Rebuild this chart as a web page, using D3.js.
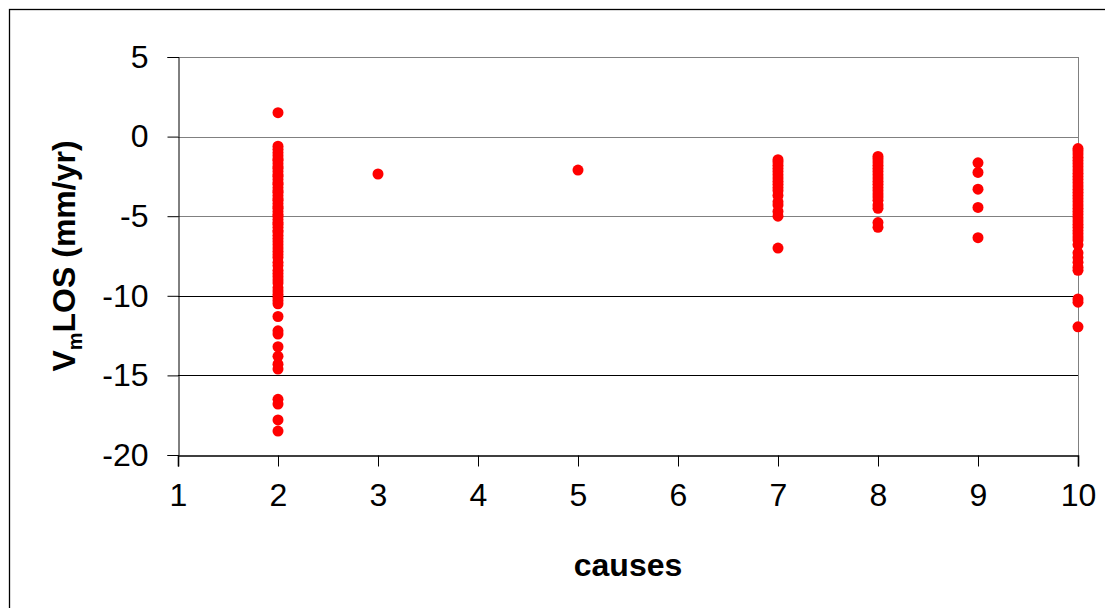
<!DOCTYPE html>
<html>
<head>
<meta charset="utf-8">
<script src="https://cdn.jsdelivr.net/npm/d3@7"></script>
<style>
  html, body { margin: 0; padding: 0; background: #fff; }
  svg { display: block; }
  text { font-family: "Liberation Sans", Arial, sans-serif; }
</style>
</head>
<body>
<svg id="chart" width="1105" height="608"></svg>
<script>
// Velocity (mm/yr) of the measured points, grouped by cause class
const causes = [2, 3, 5, 7, 8, 9, 10];
const cause2 = [1.5, -0.6, -0.8, -1.0, -1.2, -1.4, -1.5, -1.7, -1.9, -2.0, -2.2, -2.4, -2.5, -2.7,
  -2.9, -3.0, -3.2, -3.4, -3.5, -3.7, -3.9, -4.0, -4.2, -4.4, -4.5, -4.7, -4.9, -5.0, -5.2, -5.4,
  -5.5, -5.7, -5.9, -6.0, -6.2, -6.4, -6.6, -6.8, -7.0, -7.2, -7.4, -7.6, -7.9, -8.1, -8.4, -8.6,
  -8.8, -9.0, -9.2, -9.5, -9.7, -9.9, -10.1, -10.3, -10.5, -11.3, -12.2, -12.4, -13.2, -13.8,
  -14.3, -14.6, -16.5, -16.8, -17.8, -18.5];
const cause3 = [-2.35];
const cause5 = [-2.1];
const cause7 = [-1.45, -1.6, -1.8, -2.0, -2.2, -2.4, -2.6, -2.8, -3.0, -3.2, -3.4, -3.7, -4.1,
  -4.3, -4.7, -5.0, -7.0];
const cause8 = [-1.25, -1.4, -1.6, -1.8, -2.0, -2.2, -2.4, -2.6, -2.8, -3.0, -3.2, -3.4, -3.6,
  -3.8, -4.0, -4.3, -4.5, -5.4, -5.7];
const cause9 = [-1.65, -2.25, -3.3, -4.45, -6.35];
const cause10 = [-0.75, -0.9, -1.1, -1.3, -1.5, -1.7, -1.9, -2.1, -2.3, -2.5, -2.7, -2.9, -3.1,
  -3.3, -3.5, -3.7, -3.9, -4.1, -4.3, -4.5, -4.7, -4.9, -5.1, -5.3, -5.5, -5.7, -5.9, -6.1, -6.3,
  -6.5, -6.8, -7.3, -7.6, -7.9, -8.2, -8.4, -10.2, -10.4, -11.95];

const xTicks = [1, 2, 3, 4, 5, 6, 7, 8, 9, 10];
const yTicks = [5, 0, -5, -10, -15, -20];

const groups = [cause2, cause3, cause5, cause7, cause8, cause9, cause10];
const points = [];
causes.forEach((c, i) => groups[i].forEach(v => points.push({ cause: c, v })));

const svg = d3.select("#chart");
const plot = { left: 178, right: 1078, top: 57, bottom: 455 };

const x = d3.scaleLinear().domain([1, 10]).range([plot.left, plot.right]);
const y = d3.scaleLinear().domain([-20, 5]).range([plot.bottom, plot.top]);

// plain hyphen-minus for negative tick labels
const fmt = d => String(d);

// outer chart frame
svg.append("rect")
  .attr("x", 9.5).attr("y", 9.5)
  .attr("width", 1110).attr("height", 620)
  .attr("fill", "none").attr("stroke", "#000").attr("stroke-width", 1.3);

// horizontal gridlines
svg.append("g")
  .selectAll("line")
  .data(yTicks.filter(t => t !== -20))
  .join("line")
  .attr("x1", plot.left).attr("x2", plot.right)
  .attr("y1", d => Math.round(y(d)) + 0.5).attr("y2", d => Math.round(y(d)) + 0.5)
  .attr("stroke", d => d >= -5 ? "#808080" : "#000")
  .attr("stroke-width", 1);

// plot area right edge
svg.append("line")
  .attr("x1", plot.right + 0.5).attr("x2", plot.right + 0.5)
  .attr("y1", plot.top).attr("y2", plot.bottom)
  .attr("stroke", "#808080");

// y axis
const yAxis = svg.append("g")
  .attr("transform", `translate(${plot.left + 0.5},0)`)
  .call(d3.axisLeft(y).tickValues(yTicks).tickSize(11).tickPadding(19).tickFormat(fmt));
yAxis.select(".domain").attr("stroke", "#000");
yAxis.selectAll(".tick line").attr("stroke", "#000");
yAxis.selectAll("text")
  .attr("font-size", 32).attr("fill", "#000")
  .attr("font-family", "'Liberation Sans', Arial, sans-serif");

// x axis
const xAxis = svg.append("g")
  .attr("transform", `translate(0,${plot.bottom + 0.5})`)
  .call(d3.axisBottom(x).tickValues(xTicks).tickSize(11).tickPadding(17).tickFormat(fmt));
xAxis.select(".domain").attr("stroke", "#000").attr("stroke-width", 1.6);
xAxis.selectAll(".tick line").attr("stroke", "#000");
xAxis.selectAll("text")
  .attr("font-size", 32).attr("fill", "#000")
  .attr("font-family", "'Liberation Sans', Arial, sans-serif");

// data points
svg.append("g")
  .selectAll("circle")
  .data(points)
  .join("circle")
  .attr("cx", d => x(d.cause))
  .attr("cy", d => y(d.v))
  .attr("r", 5.5)
  .attr("fill", "#ff0000");

// axis titles
svg.append("text")
  .attr("x", (plot.left + plot.right) / 2)
  .attr("y", 576)
  .attr("text-anchor", "middle")
  .attr("font-size", 32).attr("font-weight", "bold")
  .text("causes");

const yTitle = svg.append("text")
  .attr("transform", `translate(75,${(plot.top + plot.bottom) / 2}) rotate(-90)`)
  .attr("text-anchor", "middle")
  .attr("font-size", 32).attr("font-weight", "bold");
yTitle.append("tspan").text("V");
yTitle.append("tspan").attr("font-size", 20).attr("dy", 7).text("m");
yTitle.append("tspan").attr("dy", -7).text("LOS (mm/yr)");
</script>
</body>
</html>
